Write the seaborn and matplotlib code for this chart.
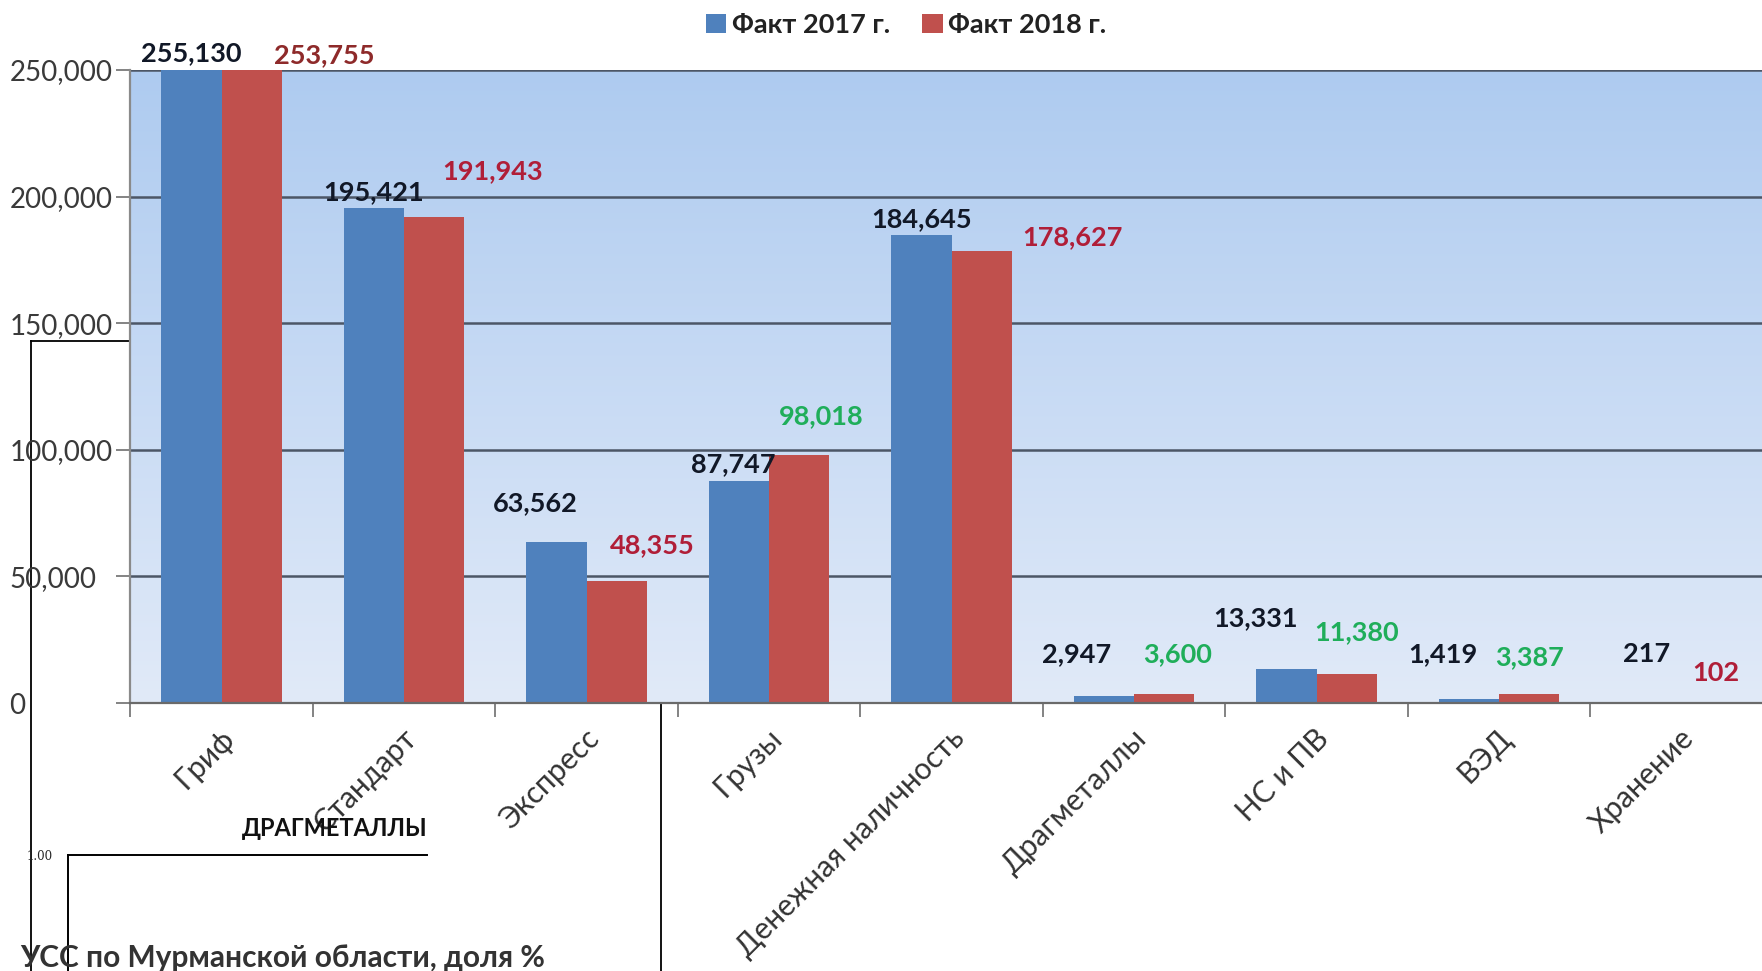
import numpy as np
import pandas as pd
import matplotlib
matplotlib.use("Agg")
import matplotlib.pyplot as plt
import seaborn as sns
from matplotlib.patches import Patch
from matplotlib.ticker import FuncFormatter, FixedLocator
from matplotlib.transforms import ScaledTranslation
from matplotlib.colors import LinearSegmentedColormap

# ---------------- data ----------------
categories = ["Гриф", "Стандарт", "Экспресс", "Грузы", "Денежная наличность",
              "Драгметаллы", "НС и ПВ", "ВЭД", "Хранение"]
fact_2017 = [255130, 195421, 63562, 87747, 184645, 2947, 13331, 1419, 217]
fact_2018 = [253755, 191943, 48355, 98018, 178627, 3600, 11380, 3387, 102]
series_names = ["Факт 2017 г.", "Факт 2018 г."]
y_ticks = [0, 50000, 100000, 150000, 200000, 250000]

# label offsets from bar tops (pixels)
off_2017 = [(0, 17), (0, 16), (-21, 39), (-6, 17), (0, 16), (-27, 41), (-31, 51), (-26, 45), (-5, 48)]
off_2018 = [(72, 15), (58, 46), (35, 35), (22, 39), (90, 14), (13, 40), (9, 42), (0, 37), (4, 30)]

# ---------------- style ----------------
sns.set_theme(style="white")
plt.rcParams["font.family"] = ["Lato", "DejaVu Sans"]

W, H = 1762, 971
fig = plt.figure(figsize=(W / 100, H / 100), dpi=100)
fig.patch.set_facecolor("white")

def fx(px):
    return px / W

def fy(py):
    return 1 - py / H

BLUE = "#4f81bd"
RED = "#c0504d"
GREEN = "#1fae5a"
LBL_RED = "#b01e38"
LBL_DARKRED = "#8e2a2a"
# colour of each 2018 value label
colors_2018 = [LBL_DARKRED, LBL_RED, LBL_RED, GREEN, LBL_RED, GREEN, GREEN, GREEN, LBL_RED]

# overlay frame box (behind main chart)
box = fig.add_axes([fx(31), fy(1000), fx(661) - fx(31), fy(341) - fy(1000)], zorder=1)
box.set_facecolor("none")
box.set_xticks([]); box.set_yticks([])
for s in box.spines.values():
    s.set_color("black"); s.set_linewidth(1.3)

# main axes
left, right, top, bottom = 130.4, 1773, 70, 703
ax = fig.add_axes([fx(left), fy(bottom), fx(right) - fx(left), fy(top) - fy(bottom)], zorder=2)
ax.set_facecolor("none")

df = pd.DataFrame({
    "cat": categories * 2,
    "val": fact_2017 + fact_2018,
    "series": [series_names[0]] * len(categories) + [series_names[1]] * len(categories),
})

sns.barplot(data=df, x="cat", y="val", hue="series", palette=[BLUE, RED],
            width=0.66, saturation=1, ax=ax, legend=False, errorbar=None,
            edgecolor="none", linewidth=0, zorder=2)

# gradient background
grad = np.linspace(0, 1, 256).reshape(-1, 1)
cmap = LinearSegmentedColormap.from_list("bg", ["#e1eaf8", "#aecbf0"])
ax.imshow(grad, cmap=cmap, origin="lower", aspect="auto", extent=[0, 1, 0, 1],
          transform=ax.transAxes, zorder=0)
ax.set_xlim(-0.5, len(categories) - 0.5)
ax.set_ylim(0, 250000)

# grid
for yv in y_ticks[1:]:
    ax.axhline(yv, color="#4c5666", lw=1.8, zorder=1)

ax.yaxis.set_major_locator(FixedLocator(y_ticks))
ax.yaxis.set_major_formatter(FuncFormatter(lambda v, p: f"{v:,.0f}"))
ax.tick_params(axis="y", which="major", length=10, width=1.3, color="#7a7a7a",
               pad=77, labelsize=20, labelcolor="#3a3a3a", left=True)
for t in ax.get_yticklabels():
    t.set_horizontalalignment("left")

ax.set_xticks(range(len(categories)))
ax.set_xticklabels(categories, rotation=45, ha="right", rotation_mode="anchor",
                   fontsize=21.5, color="#333333")
ax.tick_params(axis="x", which="major", length=0, pad=15)
ax.set_xticks(np.arange(-0.5, len(categories) + 0.5, 1.0), minor=True)
ax.tick_params(axis="x", which="minor", length=10, width=1.3, color="#7a7a7a", bottom=True)
for t in ax.get_xticklabels():
    t.set_transform(t.get_transform() + ScaledTranslation(-0.02, 0, fig.dpi_scale_trans))

ax.set_xlabel(""); ax.set_ylabel("")
for side in ["top", "right"]:
    ax.spines[side].set_visible(False)
ax.spines["left"].set_color("#8a8a8a"); ax.spines["left"].set_linewidth(1.6)
ax.spines["bottom"].set_color("#6a6a6a"); ax.spines["bottom"].set_linewidth(1.6)

# value labels
ymax = 250000
for i in range(len(categories)):
    v17, v18 = fact_2017[i], fact_2018[i]
    ax.annotate(f"{v17:,}", xy=(i - 0.1667, min(v17, ymax)), xytext=off_2017[i],
                textcoords="offset pixels", ha="center", va="center",
                fontsize=19.5, color="#111827", fontweight="bold",
                annotation_clip=False, zorder=5)
    ax.annotate(f"{v18:,}", xy=(i + 0.1667, min(v18, ymax)), xytext=off_2018[i],
                textcoords="offset pixels", ha="center", va="center",
                fontsize=19.5, color=colors_2018[i], fontweight="bold",
                annotation_clip=False, zorder=5)

# legend
handles = [Patch(facecolor=BLUE, edgecolor="none"), Patch(facecolor=RED, edgecolor="none")]
fig.legend(handles, series_names, loc="center", bbox_to_anchor=(fx(906), fy(25)),
           ncol=2, frameon=False, prop={"size": 19.5, "weight": "bold"},
           handlelength=0.75, handleheight=0.75,
           handletextpad=0.2, columnspacing=1.2, labelcolor="#222222")

# overlay inner axes
inner = fig.add_axes([fx(68), fy(1000), fx(427) - fx(68), fy(855) - fy(1000)], zorder=3)
inner.set_facecolor("none")
inner.set_ylim(0, 1.0)
inner.set_xticks([])
inner.set_yticks([1.0])
inner.set_yticklabels(["1.00"], fontsize=8.5, family="DejaVu Serif")
inner.tick_params(axis="y", length=10, width=1.3, color="black", pad=1)
for side in ["right", "bottom"]:
    inner.spines[side].set_visible(False)
for side in ["left", "top"]:
    inner.spines[side].set_color("black"); inner.spines[side].set_linewidth(1.4)
inner.set_title("ДРАГМЕТАЛЛЫ", loc="right", fontsize=17, fontweight="bold",
                color="#111111", pad=14)

fig.text(fx(20), fy(967), "УСС по Мурманской области, доля %", ha="left",
         va="baseline", fontsize=21.5, fontweight="bold", color="#333333", zorder=4)

fig.savefig("out.png", dpi=100)
